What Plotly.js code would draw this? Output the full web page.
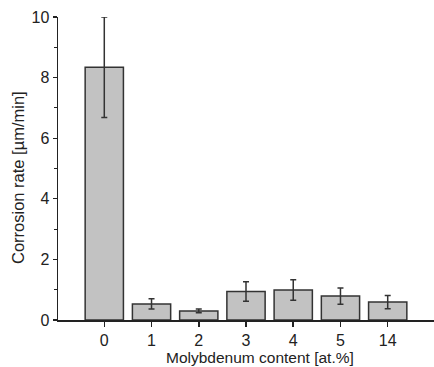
<!DOCTYPE html>
<html>
<head>
<meta charset="utf-8">
<script src="https://cdn.plot.ly/plotly-3.0.1.min.js"></script>
<style>html,body{margin:0;padding:0;background:#fff;}#chart{width:434px;height:367px;}</style>
</head>
<body>
<div id="chart"></div>
<script>
var categories = ["0", "1", "2", "3", "4", "5", "14"];
var corrosionRate = [8.34, 0.53, 0.30, 0.94, 0.99, 0.79, 0.59];
var errorValues = [1.66, 0.17, 0.06, 0.32, 0.34, 0.27, 0.22];
var yTickValues = [0, 2, 4, 6, 8, 10];
var yTickLabels = ["0", "2", "4", "6", "8", "10"];
var xTitle = 'Molybdenum content [at.%]';
var yTitle = 'Corrosion rate [µm/min]';

var trace = {
  type: 'bar',
  x: categories,
  y: corrosionRate,
  width: 0.81,
  marker: {color: '#c2c2c2', line: {color: '#333333', width: 1.5}},
  error_y: {type: 'data', array: errorValues, visible: true, color: '#333333', thickness: 1.5, width: 3}
};

var FONT = '"Liberation Sans", Arial, Helvetica, sans-serif';

var layout = {
  width: 434, height: 367,
  margin: {l: 58, r: 0, t: 17, b: 47, pad: 0},
  paper_bgcolor: '#ffffff', plot_bgcolor: '#ffffff',
  showlegend: false,
  font: {family: FONT, color: '#222222', size: 16},
  xaxis: {
    type: 'category', range: [-0.98, 6.98],
    showline: true, linecolor: '#222222', linewidth: 1.5,
    ticks: 'outside', ticklen: 5, tickwidth: 1.5, tickcolor: '#222222',
    showgrid: false, zeroline: false,
    tickfont: {size: 16}
  },
  yaxis: {
    range: [0, 10],
    showline: true, linecolor: '#222222', linewidth: 1.5,
    ticks: 'outside', ticklen: 4, tickwidth: 1.2, tickcolor: '#222222',
    tickvals: yTickValues, ticktext: yTickLabels,
    minor: {dtick: 1, ticks: 'outside', ticklen: 3, tickwidth: 1, tickcolor: '#222222', showgrid: false},
    showgrid: false, zeroline: false,
    tickfont: {size: 16}
  },
  annotations: [
    {text: xTitle, xref: 'paper', yref: 'paper', x: 0.537, y: -0.125, xanchor: 'center', yanchor: 'middle',
     showarrow: false, font: {size: 15.5, family: FONT, color: '#222222'}},
    {text: yTitle, xref: 'paper', yref: 'paper', x: -0.106, y: 0.469, xanchor: 'center', yanchor: 'middle',
     textangle: -90, showarrow: false, font: {size: 16.5, family: FONT, color: '#222222'}}
  ]
};

Plotly.newPlot('chart', [trace], layout, {displayModeBar: false, staticPlot: true});
</script>
</body>
</html>
